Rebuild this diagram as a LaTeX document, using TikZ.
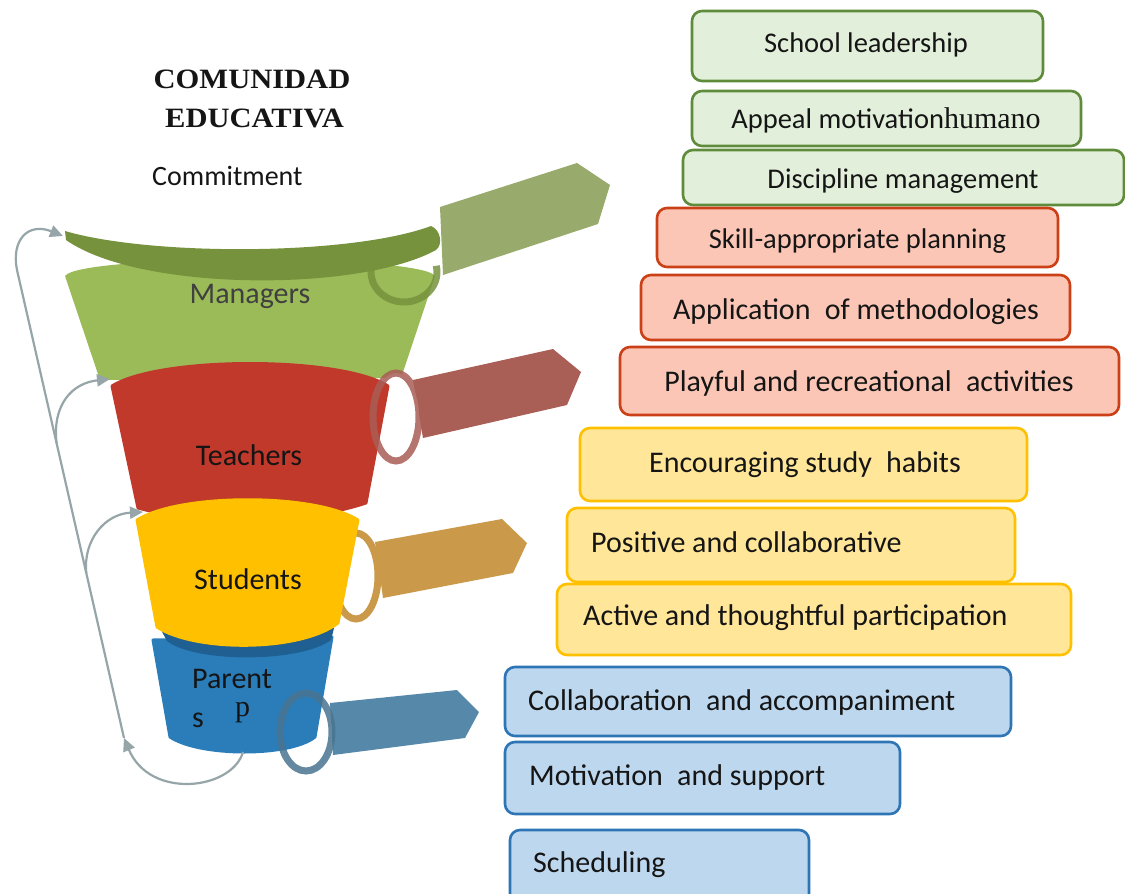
\documentclass[tikz,border=0pt]{standalone}
\usepackage{graphicx}
\usepackage{fontspec}
\setmainfont{Carlito}
\newfontfamily\lserif{Liberation Serif}
\usetikzlibrary{arrows.meta,calc}

% box colours
\definecolor{gfill}{HTML}{E2EFDA}
\definecolor{gbord}{HTML}{5E8C3A}
\definecolor{rfill}{HTML}{FBC6B5}
\definecolor{rbord}{HTML}{CC4018}
\definecolor{yfill}{HTML}{FFE699}
\definecolor{ybord}{HTML}{FFC000}
\definecolor{bfill}{HTML}{BDD7EE}
\definecolor{bbord}{HTML}{2E75B6}
% funnel colours
\definecolor{mgrc}{HTML}{9BBB59}
\definecolor{rimc}{HTML}{76923C}
\definecolor{gtagc}{HTML}{98AB6C}
\definecolor{tchc}{HTML}{C0392B}
\definecolor{rtagc}{HTML}{A95E56}
\definecolor{stdc}{HTML}{FFC000}
\definecolor{ytagc}{HTML}{CB994A}
\definecolor{parc}{HTML}{2A7DB9}
\definecolor{pshadc}{HTML}{1F5F92}
\definecolor{btagc}{HTML}{5689A9}
\definecolor{linkc}{HTML}{96A5A8}
\definecolor{inkc}{HTML}{151515}

\begin{document}
\begin{tikzpicture}[x=1pt,y=-1pt,
  box/.style={rounded corners=10pt, line width=2.6pt, inner sep=0pt},
  gbox/.style={box, draw=gbord, fill=gfill},
  rbox/.style={box, draw=rbord, fill=rfill},
  ybox/.style={box, draw=ybord, fill=yfill},
  bbox/.style={box, draw=bbord, fill=bfill},
  lbl/.style={anchor=base, inner sep=0pt, text=inkc, font=\fontsize{30}{36}\selectfont},
  lblg/.style={lbl, font=\fontsize{28.5}{34}\selectfont},
  lbll/.style={lbl, anchor=base west},
  title/.style={anchor=base, inner sep=0pt, text=inkc, font=\lserif\bfseries\fontsize{28}{34}\selectfont},
  ring/.style={line width=7pt, draw opacity=0.85},
  conn/.style={draw=linkc, line width=2.2pt},
  tip/.style={-{Triangle[length=13pt,width=12pt]}},
  soft/.style={line join=round, line width=3pt}
]
\useasboundingbox (0,0) rectangle (1125,894);
\clip (0,0) rectangle (1125,894);

% ---------- heading ----------
\node[title] (head1) at (252,88) {\scalebox{1.09}[1]{COMUNIDAD}};
\node[title] (head2) at (254.5,127) {\scalebox{1.09}[1]{EDUCATIVA}};
\node[lbl, anchor=base west, font=\fontsize{28}{34}\selectfont] (commit) at (152,185) {Commitment};

% ---------- funnel: managers ----------
\fill[gtagc] (440,207) -- (577,163) -- (610,185) -- (598,224) -- (443,275) -- cycle;
\fill[mgrc] (65,276) .. controls (80,254) and (420,254) .. (435,276) -- (401,378) -- (100,380) -- cycle;
\draw[ring, draw=rimc] (404,272) ++(165:33pt and 30pt) arc[start angle=165, end angle=372, x radius=33pt, y radius=30pt];
\fill[rimc] (65,231) .. controls (150,256) and (350,256) .. (431,226)
  .. controls (441,230) and (443,245) .. (436,250)
  .. controls (360,292) and (140,292) .. (66,240) -- cycle;
\node[lbl, text=black!75] (mgr) at (250,303) {Managers};

% ---------- funnel: teachers ----------
\fill[rtagc] (413,380) -- (553,349) -- (581,372) -- (567,405) -- (423,438) -- cycle;
\fill[white] (396,417) ellipse [x radius=23pt, y radius=44pt];
\filldraw[tchc, soft] (112,386) .. controls (160,356) and (340,356) .. (388,386) -- (366,503)
  .. controls (300,525) and (200,525) .. (138,508) -- cycle;
\draw[ring, draw=rtagc] (396,417) ellipse [x radius=23pt, y radius=44pt];
\node[lbl] (tch) at (249,465) {Teachers};

% ---------- funnel: parents ----------
\fill[btagc] (330,703) -- (457,690) -- (479,712) -- (465,738) -- (333,755) -- cycle;
\fill[white] (306,732) ellipse [x radius=26pt, y radius=39pt];
\filldraw[parc, soft] (153,640) -- (332,637) -- (315,737) .. controls (290,757) and (200,757) .. (170,737) -- cycle;
\fill[pshadc] (160,628) -- (334,628) -- (331,640) .. controls (300,663) and (195,663) .. (167,641) -- cycle;
\draw[ring, draw=btagc!85!black] (306,732) ellipse [x radius=26pt, y radius=39pt];
\node[lbll] (par1) at (192,688) {Parent};
\node[lbll] (par2) at (192,727) {s};
\node[lbll, font=\lserif\fontsize{30}{36}\selectfont] (par3) at (235,716) {p};

% ---------- funnel: students ----------
\fill[ytagc] (375,542) -- (502,519) -- (527,543) -- (513,573) -- (383,598) -- cycle;
\fill[white] (356,576) ellipse [x radius=22pt, y radius=43pt];
\draw[ring, draw=ytagc, draw opacity=1] (356,576) ellipse [x radius=22pt, y radius=43pt];
\filldraw[stdc, soft] (137,520) .. controls (180,493) and (315,493) .. (358,520) -- (338,623)
  .. controls (300,652) and (195,652) .. (157,627) -- cycle;
\node[lbl] (std) at (248,589) {Students};

% ---------- feedback arrows ----------
\coordinate (loopEnd) at (124,738);
\coordinate (lineTop) at (17,270);
\coordinate (parBot) at (243,752);
\coordinate (rimTip) at (63,236);
\coordinate (tchIn) at (110,379);
\coordinate (stdIn) at (143,512);
\coordinate (tchFrom) at ($(loopEnd)!0.63!(lineTop)$);
\coordinate (stdFrom) at ($(loopEnd)!0.3526!(lineTop)$);

\draw[conn, tip] (parBot) .. controls (232,790) and (150,800) .. (loopEnd);
\draw[conn, tip] (loopEnd) -- (lineTop) .. controls (11,240) and (28,222) .. (rimTip);
\draw[conn, tip] (tchFrom) .. controls (52,405) and (72,383) .. (tchIn);
\draw[conn, tip] (stdFrom) .. controls (83,540) and (105,514) .. (stdIn);

% ---------- green boxes ----------
\node[gbox, minimum width=351pt, minimum height=70pt] (b1) at (867.5,46) {};
\node[lblg] (t1) at (866,52) {School leadership};
\node[gbox, minimum width=389pt, minimum height=55pt] (b2) at (886.5,118.5) {};
\node[lblg] (t2) at (886,128) {Appeal motivation{\lserif\fontsize{30}{36}\selectfont humano}};
\node[gbox, minimum width=441pt, minimum height=55pt] (b3) at (903.5,177.5) {};
\node[lblg] (t3) at (903,188) {Discipline management};

% ---------- red boxes ----------
\node[rbox, minimum width=401pt, minimum height=59pt] (b4) at (857.5,237.5) {};
\node[lblg] (t4) at (857.5,248) {Skill-appropriate planning};
\node[rbox, minimum width=429pt, minimum height=65pt] (b5) at (855.5,307.5) {};
\node[lbl] (t5) at (856,319) {Application\hspace{0.25em} of methodologies};
\node[rbox, minimum width=499pt, minimum height=68pt] (b6) at (869.5,381) {};
\node[lbl] (t6) at (869,391) {Playful and recreational\hspace{0.25em} activities};

% ---------- yellow boxes ----------
\node[ybox, minimum width=447pt, minimum height=73pt] (b7) at (803.5,464.5) {};
\node[lbl] (t7) at (805,472) {Encouraging study\hspace{0.25em} habits};
\node[ybox, minimum width=448pt, minimum height=74pt] (b8) at (791,545) {};
\node[lbll] (t8) at (591,552) {Positive and collaborative};
\node[ybox, minimum width=514pt, minimum height=71pt] (b9) at (814,619.5) {};
\node[lbll] (t9) at (583,625) {Active and thoughtful participation};

% ---------- blue boxes ----------
\node[bbox, minimum width=506pt, minimum height=69pt] (b10) at (758,701.5) {};
\node[lbll] (t10) at (528,710) {Collaboration\hspace{0.25em} and accompaniment};
\node[bbox, minimum width=395pt, minimum height=72pt] (b11) at (702.5,778) {};
\node[lbll] (t11) at (529,785) {Motivation\hspace{0.25em} and support};
\node[bbox, minimum width=299pt, minimum height=75pt] (b12) at (659.5,867.5) {};
\node[lbll] (t12) at (533,872) {Scheduling};
\end{tikzpicture}
\end{document}
